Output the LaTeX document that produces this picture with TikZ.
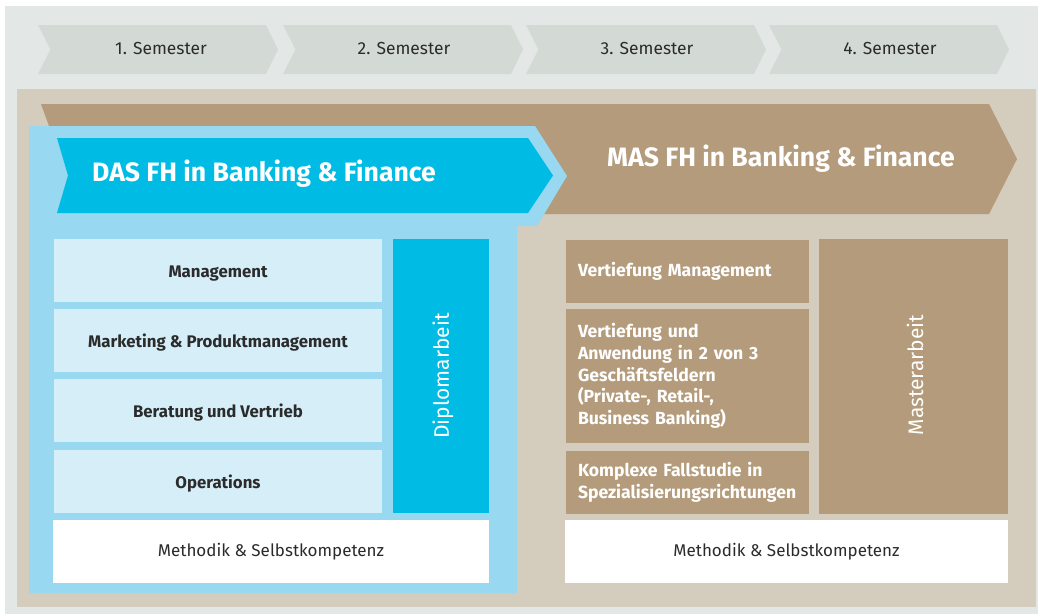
\documentclass[tikz,border=0pt]{standalone}
\usepackage{fontspec}
\setmainfont{Fira Sans}
\definecolor{outergray}{HTML}{E3E8E6}
\definecolor{chev}{HTML}{D3DAD6}
\definecolor{tanbg}{HTML}{D4CCBD}
\definecolor{tandark}{HTML}{B39B7B}
\definecolor{lightblue}{HTML}{98D9F1}
\definecolor{cyanbox}{HTML}{00BCE4}
\definecolor{paleblue}{HTML}{D5EEF8}
\definecolor{txt}{HTML}{2B2B2B}
\begin{document}
\begin{tikzpicture}[x=1pt,y=-1pt,
  semlabel/.style={text=txt,font=\fontsize{17.4}{20}\selectfont,anchor=base,inner sep=0pt},
  headlabel/.style={text=white,font=\bfseries\fontsize{26.6}{30}\selectfont,anchor=base west,inner sep=0pt},
  box/.style={anchor=north west,inner sep=0pt,outer sep=0pt,draw=none},
  leftbox/.style={box,fill=paleblue,text=txt,font=\bfseries\fontsize{16.8}{20}\selectfont,align=center},
  rightbox/.style={box,fill=tandark,text=white,font=\bfseries\fontsize{17.6}{21.8}\selectfont,align=left,inner xsep=12pt},
  methbox/.style={box,fill=white,text=txt,font=\fontsize{17}{20}\selectfont},
  vertlabel/.style={rotate=90,inner sep=0pt,text=white,font=\fontsize{21}{26}\selectfont}
]
\useasboundingbox (0,0) rectangle (1038,614);
\fill[white] (0,0) rectangle (1038,614);
\fill[outergray] (5,6) rectangle (1038,614);
% semester chevrons
\foreach \i/\L/\c in {1/38/161,2/283/404,3/526/647,4/769/890}{
  \fill[chev] (\L,25) -- ({\L+228},25) -- ({\L+240},49.5) -- ({\L+228},74) -- (\L,74) -- ({\L+12.5},49.5) -- cycle;
  \node[semlabel] (sem\i) at (\c,54.5) {\i. Semester};
}
% tan background
\fill[tanbg] (17,89) rectangle (1036,607);
% MAS arrow
\fill[tandark] (41,104) -- (989,104) -- (1017,159) -- (989,214) -- (41,214) -- (61,159) -- cycle;
% DAS panel
\fill[lightblue] (29,126) -- (535,126) -- (567,176) -- (537,226) -- (517,226) -- (517,593) -- (29,593) -- cycle;
% DAS arrow
\fill[cyanbox] (57,138) -- (528,138) -- (553,175.5) -- (528,213) -- (57,213) -- (68,175.5) -- cycle;
\node[headlabel] (das) at (92,181.5) {DAS FH in Banking \& Finance};
\node[headlabel] (mas) at (607,166) {MAS FH in Banking \& Finance};
% left column
\node[leftbox,minimum width=328pt,minimum height=63pt,text height=13pt,text depth=0pt] (mgmt) at (54,239) {Management};
\node[leftbox,minimum width=328pt,minimum height=63pt,text height=13pt,text depth=0pt] (mkt) at (54,309) {Marketing \& Produktmanagement};
\node[leftbox,minimum width=328pt,minimum height=63pt,text height=13pt,text depth=0pt] (ber) at (54,379) {Beratung und Vertrieb};
\node[leftbox,minimum width=328pt,minimum height=63pt,text height=13pt,text depth=0pt] (ops) at (54,450) {Operations};
\node[box,fill=cyanbox,minimum width=96pt,minimum height=274pt] (dipl) at (393,239) {};
\node[vertlabel] (diplt) at (443,376) {Diplomarbeit};
\node[methbox,minimum width=436pt,minimum height=63pt] (meth1) at (53,520) {Methodik \& Selbstkompetenz};
% right column
\node[rightbox,text width=219pt,minimum height=63pt] (vm) at (566,240) {Vertiefung Management};
\node[rightbox,text width=219pt,minimum height=134pt] (va) at (566,309) {Vertiefung und\\Anwendung in 2 von 3\\Geschäftsfeldern\\(Private-, Retail-,\\Business Banking)};
\node[rightbox,text width=219pt,minimum height=63pt] (kf) at (566,451) {Komplexe Fallstudie in\\Spezialisierungsrichtungen};
\node[box,fill=tandark,minimum width=189pt,minimum height=275pt] (mast) at (819,239) {};
\node[vertlabel] (mastt) at (915,375) {Masterarbeit};
\node[methbox,minimum width=443pt,minimum height=63pt] (meth2) at (565,520) {Methodik \& Selbstkompetenz};
\end{tikzpicture}
\end{document}
